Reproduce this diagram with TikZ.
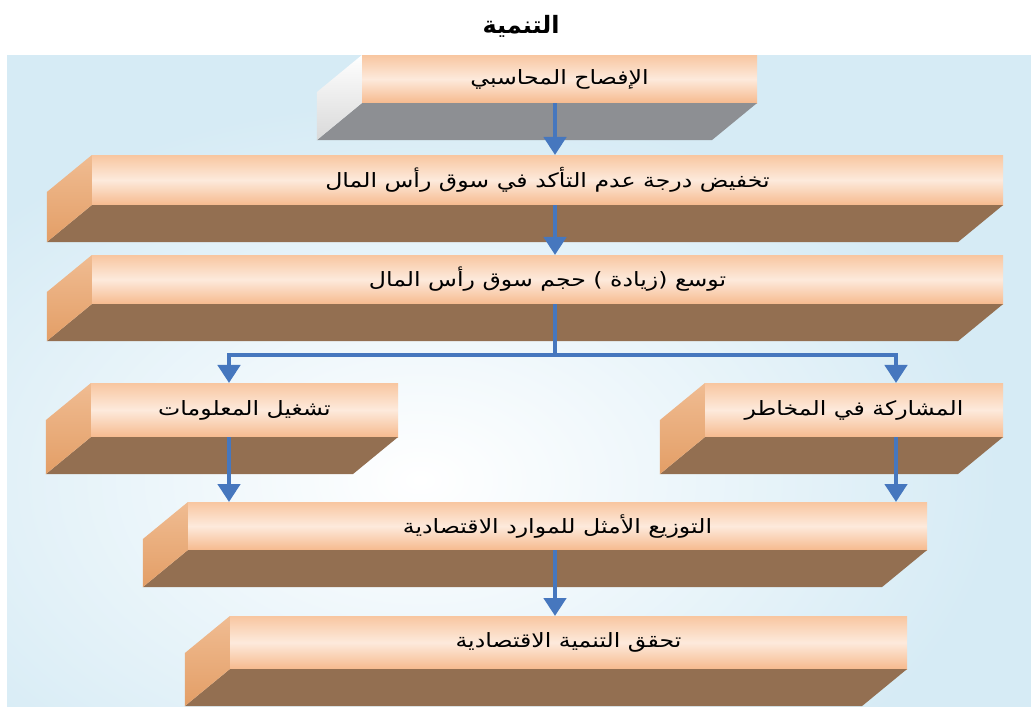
\documentclass[tikz,border=0pt]{standalone}
\usepackage{fontspec}
\usepackage{tikz}
\usetikzlibrary{arrows.meta}
\TeXXeTstate=1
\newfontfamily\arabicfont[Script=Arabic]{DejaVu Sans}
\newfontfamily\widearabic[Script=Arabic,FakeStretch=1.2]{DejaVu Sans}
\newcommand{\artxt}[1]{{\widearabic\beginR #1\endR}}
\definecolor{panelblue}{HTML}{D6EBF5}
\definecolor{peachtop}{HTML}{F8C6A0}
\definecolor{peachmid}{HTML}{FDEADC}
\definecolor{peachbot}{HTML}{F6BA8E}
\definecolor{slabbrown}{HTML}{936F51}
\definecolor{tantop}{HTML}{F0BC92}
\definecolor{tanbot}{HTML}{E39E66}
\definecolor{slabgrey}{HTML}{8D8F93}
\definecolor{arrowblue}{HTML}{4677BE}

\begin{document}
\begin{tikzpicture}[x=0.025cm,y=-0.025cm,
    face/.style={inner sep=0pt, outer sep=0pt, top color=peachtop, bottom color=peachbot,
        middle color=peachmid, font=\fontsize{14}{16}\selectfont},
    under/.style={fill=slabbrown},
    side/.style={top color=tantop, bottom color=tanbot},
    flow/.style={draw=arrowblue, line width=3.5pt, -{Triangle[width=0.55cm,length=0.45cm]}}]
    \useasboundingbox (0,0) rectangle (1031,706);
    % background panel
    \fill[panelblue] (7,55) rectangle (1040,715);
    \begin{scope}
        \clip (7,55) rectangle (1040,715);
        \shade[inner color=white, outer color=panelblue] (420,480) ellipse (580 and 380);
    \end{scope}
    \node[font=\bfseries\fontsize{17}{20}\selectfont] (title) at (521,26) {{\arabicfont\beginR التنمية\endR}};

    % front faces
    \node[face, minimum width=9.875cm, minimum height=1.2cm] (b1) at (559.5,79) {\artxt{الإفصاح المحاسبي}};
    \node[face, minimum width=22.775cm, minimum height=1.25cm] (b2) at (547.5,180) {\artxt{تخفيض درجة عدم التأكد في سوق رأس المال}};
    \node[face, minimum width=22.775cm, minimum height=1.225cm] (b3) at (547.5,279.5) {\artxt{توسع (زيادة ) حجم سوق رأس المال}};
    \node[face, minimum width=7.675cm, minimum height=1.35cm] (b4l) at (244.5,410) {\artxt{تشغيل المعلومات}};
    \node[face, minimum width=7.45cm, minimum height=1.35cm] (b4r) at (854,410) {\artxt{المشاركة في المخاطر}};
    \node[face, minimum width=18.475cm, minimum height=1.2cm] (b5) at (557.5,526) {\artxt{التوزيع الأمثل للموارد الاقتصادية}};
    \node[face, minimum width=16.925cm, minimum height=1.325cm] (b6) at (568.5,642.5) {\artxt{تحقق التنمية الاقتصادية}};

    % bottom and side of each slab
    \fill[slabgrey] (b1.south west) -- (b1.south east) -- ([shift={(-45,37)}]b1.south east) -- ([shift={(-45,37)}]b1.south west) -- cycle;
    \shade[top color=white, bottom color=gray!30] (b1.north west) -- (b1.south west) -- ([shift={(-45,37)}]b1.south west) -- ([shift={(-45,37)}]b1.north west) -- cycle;
    \foreach \n in {b2,b3,b4l,b4r,b5,b6}{
        \fill[under] (\n.south west) -- (\n.south east) -- ([shift={(-45,37)}]\n.south east) -- ([shift={(-45,37)}]\n.south west) -- cycle;
        \shade[side] (\n.north west) -- (\n.south west) -- ([shift={(-45,37)}]\n.south west) -- ([shift={(-45,37)}]\n.north west) -- cycle;
    }

    % arrows
    \coordinate (split) at (555,355);
    \coordinate (lcol) at (229,0);
    \coordinate (rcol) at (896,0);
    \draw[flow] (b1.south -| split) -- (b2.north -| split);
    \draw[flow] (b2.south -| split) -- (b3.north -| split);
    \draw[flow] (b3.south -| split) -- (split) -| (b4l.north -| lcol);
    \draw[flow] (split) -| (b4r.north -| rcol);
    \draw[flow] (b4l.south -| lcol) -- (b5.north -| lcol);
    \draw[flow] (b4r.south -| rcol) -- (b5.north -| rcol);
    \draw[flow] (b5.south -| split) -- (b6.north -| split);
\end{tikzpicture}
\end{document}
